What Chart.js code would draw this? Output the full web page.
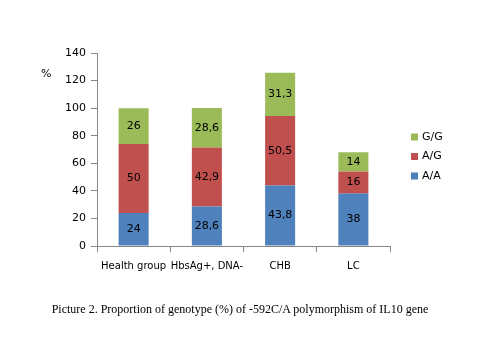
<!DOCTYPE html>
<html><head><meta charset="utf-8">
<script src="https://cdn.jsdelivr.net/npm/chart.js@4/dist/chart.umd.min.js"></script>
<style>
html,body{margin:0;padding:0;background:#fff;}
#wrap{position:relative;width:480px;height:360px;}
#pct{position:absolute;left:41px;top:67px;font:11px "DejaVu Sans",sans-serif;color:#000;}
#cap{position:absolute;left:0;width:480px;top:302px;text-align:center;font:12px "Liberation Serif","Times New Roman",serif;color:#000;}
</style></head>
<body><div id="wrap"><canvas id="c" width="480" height="360"></canvas>
<div id="pct">%</div>
<div id="cap">Picture 2. Proportion of genotype (%) of -592C/A polymorphism of IL10 gene</div></div>
<script>
const categories = ["Health group", "HbsAg+, DNA-", "CHB", "LC"];
const seriesAA = [24, 28.6, 43.8, 38];
const seriesAG = [50, 42.9, 50.5, 16];
const seriesGG = [26, 28.6, 31.3, 14];
const yTicks = [0, 20, 40, 60, 80, 100, 120, 140];

const fmt = v => String(v).replace('.', ',');
const labelPlugin = {
  id: 'labels',
  afterDatasetsDraw(chart) {
    const ctx = chart.ctx;
    ctx.save();
    ctx.font = '11px "DejaVu Sans", sans-serif';
    ctx.fillStyle = '#000';
    ctx.textAlign = 'center';
    ctx.textBaseline = 'middle';
    chart.data.datasets.forEach((ds, i) => {
      chart.getDatasetMeta(i).data.forEach((bar, j) => {
        const y = (bar.y + bar.base) / 2;
        ctx.fillText(fmt(ds.data[j]), bar.x, y);
      });
    });
    // legend
    const items = chart.data.datasets.slice().reverse();
    items.forEach((ds, k) => {
      const y = 137 + k * 19.5;
      ctx.fillStyle = ds.backgroundColor;
      ctx.fillRect(411, y - 3.5, 7, 7);
      ctx.fillStyle = '#000';
      ctx.textAlign = 'left';
      ctx.fillText(ds.label, 422, y);
    });
    ctx.restore();
  }
};

new Chart(document.getElementById('c'), {
  type: 'bar',
  data: {
    labels: categories,
    datasets: [
      { label: 'A/A', data: seriesAA, backgroundColor: '#4F81BD' },
      { label: 'A/G', data: seriesAG, backgroundColor: '#C0504D' },
      { label: 'G/G', data: seriesGG, backgroundColor: '#9BBB59' }
    ]
  },
  options: {
    responsive: false,
    animation: false,
    devicePixelRatio: 1,
    layout: { padding: { left: 50, top: 53, right: 90, bottom: 79 } },
    categoryPercentage: 0.82,
    barPercentage: 0.5,
    plugins: { legend: { display: false }, tooltip: { enabled: false } },
    scales: {
      x: {
        stacked: true,
        grid: { drawOnChartArea: false, offset: true, tickLength: 6, color: '#868686' },
        border: { color: '#868686' },
        ticks: { color: '#000', font: { family: 'DejaVu Sans', size: 10 }, padding: 8, maxRotation: 0, autoSkip: false },
        afterFit(s) { s.height = 35; }
      },
      y: {
        stacked: true,
        min: 0, max: 140,
        afterBuildTicks(s) { s.ticks = yTicks.map(v => ({ value: v })); },
        grid: { drawOnChartArea: false, tickLength: 6, color: '#868686' },
        border: { color: '#868686' },
        ticks: { color: '#000', font: { family: 'DejaVu Sans', size: 11 }, padding: 5 },
        afterFit(s) { s.width = 47; }
      }
    }
  },
  plugins: [labelPlugin]
});
</script></body></html>
